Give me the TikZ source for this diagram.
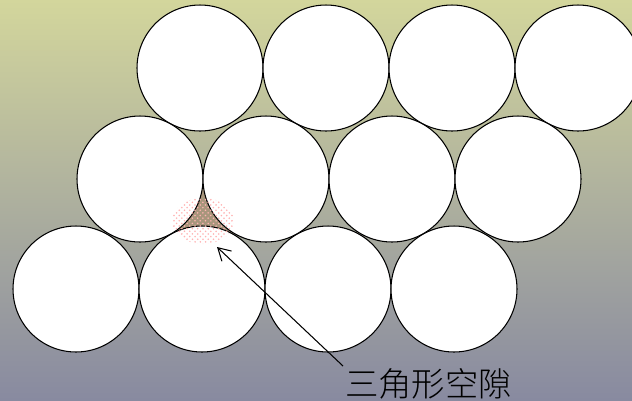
\documentclass[tikz,border=0pt]{standalone}
\usepackage{fontspec}
\newfontfamily\cjk{Noto Sans CJK SC Light}
\usetikzlibrary{
    arrows.meta,
    positioning,
    patterns
}
\definecolor{bgTop}{RGB}{211,214,156}
\definecolor{bgBot}{RGB}{136,138,160}
\definecolor{gapFill}{RGB}{168,150,124}
\tikzset{
  ball/.style = {draw=black, line width=0.6pt, fill=white, circle,
                 inner sep=0pt, minimum size=2.52cm},
  arr/.style  = {-{Straight Barb[length=7pt,width=8pt]}, line width=0.6pt, black}
}

\begin{document}
\begin{tikzpicture}[x=0.02cm, y=-0.02cm,
    lbl/.style={font=\cjk\fontsize{19}{19}\selectfont, inner sep=1pt}
  ]
    \useasboundingbox (0,0) rectangle (632,400);
    \clip (0,0) rectangle (632,400);
    \shade[top color=bgTop, bottom color=bgBot] (0,0) rectangle (632,400);
    % gap between three balls
    \fill[gapFill] (140,179) -- (266,179) -- (203,289) -- cycle;
    % rows of balls
    \foreach \i in {0,...,3} {
      \node[ball] (a\i) at (200+126*\i,68)  {};
      \node[ball] (b\i) at (140+126*\i,179) {};
      \node[ball] (c\i) at (76+126*\i,289)  {};
    }
    \fill[pattern=crosshatch dots, pattern color=red!30] (203,221) ellipse [x radius=31, y radius=23];
    \coordinate (gap) at (217,247);
    \node[lbl, anchor=north west] (txt) at (343,366) {三角形空隙};
    \draw[arr] (txt.north west) -- (gap);
  \end{tikzpicture}
\end{document}
